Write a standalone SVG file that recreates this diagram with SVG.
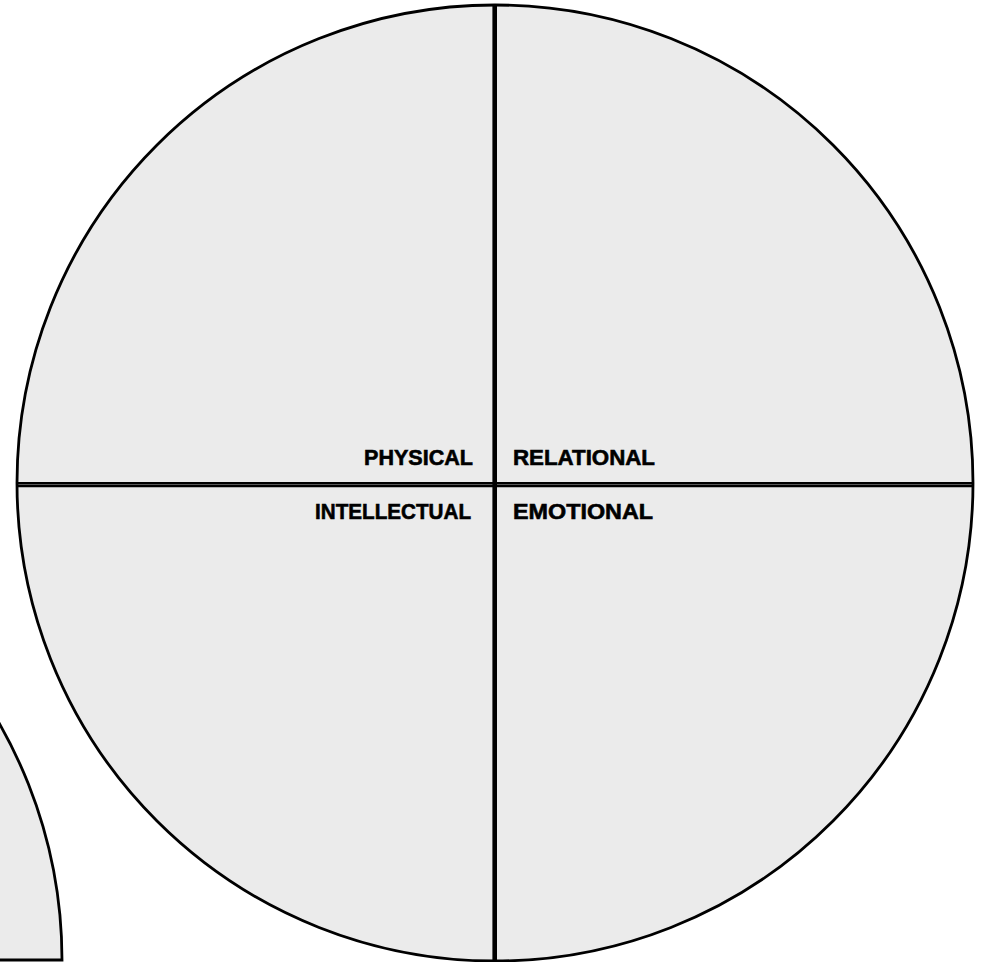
<svg xmlns="http://www.w3.org/2000/svg" width="983" height="962" viewBox="0 0 983 962">
<style>
.disc{fill:#ebebeb;stroke:#000;stroke-width:2.8}
.div{stroke:#000;fill:none}
.lbl{font-family:"Liberation Sans",Arial,sans-serif;font-weight:bold;font-size:22px;fill:#000;stroke:#000;stroke-width:0.6}
</style>
<rect width="983" height="962" fill="#fff"/>
<g id="second-wheel">
<path class="disc" d="M -894,960 A 478 478 0 0 1 62,960 Z"/>
</g>
<g id="wheel">
<circle class="disc" cx="495" cy="483" r="478"/>
</g>
<g id="connectors">
<line class="div" x1="17" y1="483.2" x2="973" y2="483.2" stroke-width="2.4"/>
<line class="div" x1="17" y1="486" x2="973" y2="486" stroke-width="2.4"/>
<line class="div" x1="494.7" y1="5" x2="494.7" y2="962" stroke-width="4.6"/>
</g>
<g id="physical"><text class="lbl" x="473" y="465" text-anchor="end" textLength="109" lengthAdjust="spacingAndGlyphs">PHYSICAL</text></g>
<g id="relational"><text class="lbl" x="513" y="465" textLength="142" lengthAdjust="spacingAndGlyphs">RELATIONAL</text></g>
<g id="intellectual"><text class="lbl" x="471" y="519" text-anchor="end" textLength="156" lengthAdjust="spacingAndGlyphs">INTELLECTUAL</text></g>
<g id="emotional"><text class="lbl" x="513" y="519" textLength="140" lengthAdjust="spacingAndGlyphs">EMOTIONAL</text></g>
</svg>
